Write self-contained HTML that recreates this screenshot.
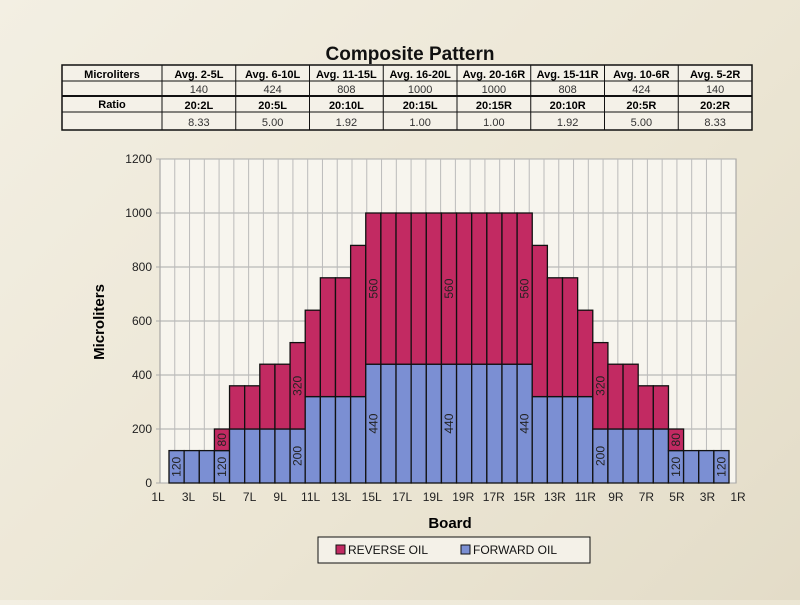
<!DOCTYPE html>
<html><head><meta charset="utf-8"><style>
body{margin:0;width:800px;height:600px;overflow:hidden;background:linear-gradient(135deg,#f3efe3,#ebe5d3 60%,#e3dcc8);font-family:"Liberation Sans",sans-serif}
</style></head><body>
<svg id="s" width="800" height="600" xmlns="http://www.w3.org/2000/svg" font-family="Liberation Sans, sans-serif"></svg>
<script>
const s=document.getElementById('s');let h='';
h+='<text x="410" y="60" font-size="19" font-weight="bold" text-anchor="middle" fill="#111">Composite Pattern</text>';
// table
const tx=62,tw=690,c0=100,cw=(tw-c0)/8;
const rows=[65,81,96,112,130];
h+=`<rect x="${tx}" y="65" width="${tw}" height="65" fill="#f4f1e8" stroke="#111" stroke-width="1.5"/>`;
rows.slice(1,4).forEach((y,i)=>h+=`<line x1="${tx}" x2="${tx+tw}" y1="${y}" y2="${y}" stroke="#111" stroke-width="${i==1?2:1}"/>`);
for(let i=0;i<=8;i++){const x=tx+c0+i*cw;h+=`<line x1="${x}" x2="${x}" y1="65" y2="130" stroke="#111"/>`;}
const hd=['Avg. 2-5L','Avg. 6-10L','Avg. 11-15L','Avg. 16-20L','Avg. 20-16R','Avg. 15-11R','Avg. 10-6R','Avg. 5-2R'];
const v1=['140','424','808','1000','1000','808','424','140'];
const r2=['20:2L','20:5L','20:10L','20:15L','20:15R','20:10R','20:5R','20:2R'];
const v2=['8.33','5.00','1.92','1.00','1.00','1.92','5.00','8.33'];
h+=`<text x="${tx+50}" y="78" font-size="11" font-weight="bold" text-anchor="middle">Microliters</text>`;
h+=`<text x="${tx+50}" y="108" font-size="11" font-weight="bold" text-anchor="middle">Ratio</text>`;
for(let i=0;i<8;i++){const x=tx+c0+i*cw+cw/2;
h+=`<text x="${x}" y="78" font-size="11" font-weight="bold" text-anchor="middle">${hd[i]}</text>`;
h+=`<text x="${x}" y="93" font-size="11" text-anchor="middle" fill="#333">${v1[i]}</text>`;
h+=`<text x="${x}" y="109" font-size="11" font-weight="bold" text-anchor="middle">${r2[i]}</text>`;
h+=`<text x="${x}" y="126" font-size="11" text-anchor="middle" fill="#333">${v2[i]}</text>`;}
// chart
const L=160,R=736,T=159,B=483,k=(B-T)/1200;
h+=`<rect x="${L}" y="${T}" width="${R-L}" height="${B-T}" fill="#f7f5ee" stroke="#999"/>`;
for(let v=0;v<=1200;v+=200){const y=B-v*k;h+=`<line x1="${L-4}" x2="${R}" y1="${y}" y2="${y}" stroke="#aaa"/><text x="${L-8}" y="${y+4}" font-size="12" text-anchor="end" fill="#222">${v}</text>`;}
const gw=(R-L)/39;
for(let i=1;i<39;i++){const x=L+i*gw;h+=`<line x1="${x}" x2="${x}" y1="${T}" y2="${B}" stroke="#bbb"/>`;}
const labs=['1L','3L','5L','7L','9L','11L','13L','15L','17L','19L','19R','17R','15R','13R','11R','9R','7R','5R','3R','1R'];
labs.forEach((t,i)=>{const x=L-2+i*(R-L+4)/19;h+=`<text x="${x}" y="501" font-size="12" text-anchor="middle" fill="#222">${t}</text>`;});
const left=[[120,0],[120,0],[120,0],[120,80],[200,160],[200,160],[200,240],[200,240],[200,320],[320,320],[320,440],[320,440],[320,560]];
const data=left.concat(Array(11).fill([440,560])).concat(left.slice().reverse());
const bx0=169,bw=(729-169)/37;
const red='#c22a62',blue='#7b8fd3';
data.forEach((d,i)=>{const x=bx0+i*bw,yb=B-d[0]*k,yt=B-(d[0]+d[1])*k;
h+=`<rect x="${x}" y="${yb}" width="${bw}" height="${d[0]*k}" fill="${blue}" stroke="#111" stroke-width="1.3"/>`;
if(d[1])h+=`<rect x="${x}" y="${yt}" width="${bw}" height="${d[1]*k}" fill="${red}" stroke="#111" stroke-width="1.3"/>`;});
function vt(i,y,t){const x=bx0+i*bw+bw/2+4;h+=`<text transform="translate(${x},${y}) rotate(-90)" font-size="12" text-anchor="middle" fill="#222">${t}</text>`;}
[0,3,33,36].forEach(i=>vt(i,B-60*k,'120'));
[3,33].forEach(i=>vt(i,B-160*k,'80'));
[8,28].forEach(i=>{vt(i,B-100*k,'200');vt(i,B-360*k,'320');});
[13,18,23].forEach(i=>{vt(i,B-220*k,'440');vt(i,B-720*k,'560');});
h+=`<text transform="translate(104,322) rotate(-90)" font-size="15" font-weight="bold" text-anchor="middle">Microliters</text>`;
h+=`<text x="450" y="528" font-size="15" font-weight="bold" text-anchor="middle">Board</text>`;
// legend
h+=`<rect x="318" y="537" width="272" height="26" fill="#f4f1e8" stroke="#111"/>`;
h+=`<rect x="336" y="545" width="9" height="9" fill="${red}" stroke="#111"/><text x="348" y="554" font-size="12" fill="#111">REVERSE OIL</text>`;
h+=`<rect x="461" y="545" width="9" height="9" fill="${blue}" stroke="#111"/><text x="473" y="554" font-size="12" fill="#111">FORWARD OIL</text>`;
s.innerHTML=h;
</script>
</body></html>
